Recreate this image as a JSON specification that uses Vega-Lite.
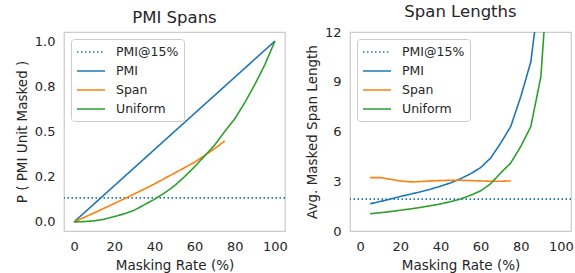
{
  "$schema": "https://vega.github.io/schema/vega-lite/v6.json",
  "padding": {"left": 14, "top": 2, "right": 2, "bottom": 2},
  "spacing": 16,
  "config": {
    "font": "DejaVu Sans",
    "view": {"stroke": "#cccccc", "strokeWidth": 1.25},
    "axis": {"grid": false, "domain": false, "ticks": false, "labelFontSize": 13, "titleFontSize": 13.5, "labelColor": "#262626", "titleColor": "#262626", "labelPadding": 9, "titleFontWeight": "normal", "titlePadding": 5},
    "title": {"fontSize": 16.5, "fontWeight": "normal", "color": "#262626", "offset": 6},
    "legend": {"orient": "top-left", "offset": 7, "padding": 5, "strokeColor": "#cccccc", "fillColor": "rgba(255,255,255,0.85)", "cornerRadius": 3, "symbolType": "M-1,0H3", "symbolSize": 196, "symbolStrokeWidth": 1.6, "labelFontSize": 12.5, "labelColor": "#262626", "labelOffset": 24, "rowPadding": 4, "labelLimit": 200}
  },
  "datasets": {
    "leftLines": [
      {"series": "PMI", "rate": 0, "p": 0},
      {"series": "PMI", "rate": 25, "p": 0.25},
      {"series": "PMI", "rate": 50, "p": 0.5},
      {"series": "PMI", "rate": 75, "p": 0.75},
      {"series": "PMI", "rate": 100, "p": 1.0},
      {"series": "Span", "rate": 0, "p": 0},
      {"series": "Span", "rate": 5, "p": 0.025},
      {"series": "Span", "rate": 10, "p": 0.05},
      {"series": "Span", "rate": 15, "p": 0.076},
      {"series": "Span", "rate": 20, "p": 0.102},
      {"series": "Span", "rate": 25, "p": 0.128},
      {"series": "Span", "rate": 30, "p": 0.155},
      {"series": "Span", "rate": 35, "p": 0.182},
      {"series": "Span", "rate": 40, "p": 0.21},
      {"series": "Span", "rate": 45, "p": 0.24},
      {"series": "Span", "rate": 50, "p": 0.27},
      {"series": "Span", "rate": 55, "p": 0.3},
      {"series": "Span", "rate": 60, "p": 0.33},
      {"series": "Span", "rate": 65, "p": 0.368},
      {"series": "Span", "rate": 70, "p": 0.405},
      {"series": "Span", "rate": 75, "p": 0.448},
      {"series": "Uniform", "rate": 0, "p": 0},
      {"series": "Uniform", "rate": 5, "p": 0.002},
      {"series": "Uniform", "rate": 10, "p": 0.006},
      {"series": "Uniform", "rate": 15, "p": 0.015},
      {"series": "Uniform", "rate": 20, "p": 0.03},
      {"series": "Uniform", "rate": 25, "p": 0.045},
      {"series": "Uniform", "rate": 30, "p": 0.065},
      {"series": "Uniform", "rate": 35, "p": 0.095},
      {"series": "Uniform", "rate": 40, "p": 0.125},
      {"series": "Uniform", "rate": 45, "p": 0.16},
      {"series": "Uniform", "rate": 50, "p": 0.2},
      {"series": "Uniform", "rate": 55, "p": 0.25},
      {"series": "Uniform", "rate": 60, "p": 0.305},
      {"series": "Uniform", "rate": 65, "p": 0.365},
      {"series": "Uniform", "rate": 70, "p": 0.425},
      {"series": "Uniform", "rate": 75, "p": 0.5},
      {"series": "Uniform", "rate": 80, "p": 0.57},
      {"series": "Uniform", "rate": 85, "p": 0.66},
      {"series": "Uniform", "rate": 90, "p": 0.76},
      {"series": "Uniform", "rate": 95, "p": 0.87},
      {"series": "Uniform", "rate": 100, "p": 1.0}
    ],
    "leftRef": [{"series": "PMI@15%", "p": 0.133}],
    "rightLines": [
      {"series": "PMI", "rate": 5, "len": 1.64},
      {"series": "PMI", "rate": 10, "len": 1.78},
      {"series": "PMI", "rate": 15, "len": 1.92},
      {"series": "PMI", "rate": 20, "len": 2.08},
      {"series": "PMI", "rate": 25, "len": 2.22},
      {"series": "PMI", "rate": 30, "len": 2.36},
      {"series": "PMI", "rate": 35, "len": 2.52},
      {"series": "PMI", "rate": 40, "len": 2.7},
      {"series": "PMI", "rate": 45, "len": 2.9},
      {"series": "PMI", "rate": 50, "len": 3.15},
      {"series": "PMI", "rate": 55, "len": 3.45},
      {"series": "PMI", "rate": 60, "len": 3.82},
      {"series": "PMI", "rate": 65, "len": 4.4},
      {"series": "PMI", "rate": 70, "len": 5.3},
      {"series": "PMI", "rate": 75, "len": 6.3},
      {"series": "PMI", "rate": 80, "len": 8.1},
      {"series": "PMI", "rate": 85, "len": 10.2},
      {"series": "PMI", "rate": 90, "len": 15},
      {"series": "Span", "rate": 5, "len": 3.22},
      {"series": "Span", "rate": 10, "len": 3.22},
      {"series": "Span", "rate": 15, "len": 3.12},
      {"series": "Span", "rate": 20, "len": 3.02},
      {"series": "Span", "rate": 25, "len": 2.96},
      {"series": "Span", "rate": 30, "len": 2.98},
      {"series": "Span", "rate": 35, "len": 3.02},
      {"series": "Span", "rate": 40, "len": 3.04},
      {"series": "Span", "rate": 45, "len": 3.06},
      {"series": "Span", "rate": 50, "len": 3.06},
      {"series": "Span", "rate": 55, "len": 3.04},
      {"series": "Span", "rate": 60, "len": 3.02},
      {"series": "Span", "rate": 65, "len": 3.0},
      {"series": "Span", "rate": 70, "len": 3.0},
      {"series": "Span", "rate": 75, "len": 3.02},
      {"series": "Uniform", "rate": 5, "len": 1.04},
      {"series": "Uniform", "rate": 10, "len": 1.1},
      {"series": "Uniform", "rate": 15, "len": 1.17},
      {"series": "Uniform", "rate": 20, "len": 1.25},
      {"series": "Uniform", "rate": 25, "len": 1.33},
      {"series": "Uniform", "rate": 30, "len": 1.42},
      {"series": "Uniform", "rate": 35, "len": 1.52},
      {"series": "Uniform", "rate": 40, "len": 1.63},
      {"series": "Uniform", "rate": 45, "len": 1.77},
      {"series": "Uniform", "rate": 50, "len": 1.93},
      {"series": "Uniform", "rate": 55, "len": 2.15},
      {"series": "Uniform", "rate": 60, "len": 2.42},
      {"series": "Uniform", "rate": 65, "len": 2.85},
      {"series": "Uniform", "rate": 70, "len": 3.5},
      {"series": "Uniform", "rate": 75, "len": 4.1},
      {"series": "Uniform", "rate": 80, "len": 5.1},
      {"series": "Uniform", "rate": 85, "len": 6.3},
      {"series": "Uniform", "rate": 90, "len": 9.3},
      {"series": "Uniform", "rate": 95, "len": 18}
    ],
    "rightRef": [{"series": "PMI@15%", "len": 1.92}]
  },
  "resolve": {
    "scale": {"color": "independent", "strokeDash": "independent", "x": "independent", "y": "independent"},
    "legend": {"color": "independent", "strokeDash": "independent"}
  },
  "hconcat": [
    {
      "title": "PMI Spans",
      "width": 221,
      "height": 199,
      "layer": [
        {
          "data": {"name": "leftRef"},
          "mark": {"type": "rule", "strokeWidth": 1.6},
          "encoding": {
            "y": {"field": "p", "type": "quantitative"},
            "color": {"field": "series", "type": "nominal", "title": null, "scale": {"domain": ["PMI@15%", "PMI", "Span", "Uniform"], "range": ["#1f77b4", "#1f77b4", "#ff7f0e", "#2ca02c"]}},
            "strokeDash": {"field": "series", "type": "nominal", "title": null, "scale": {"domain": ["PMI@15%", "PMI", "Span", "Uniform"], "range": [[1.5, 2.5], [1, 0], [1, 0], [1, 0]]}}
          }
        },
        {
          "data": {"name": "leftLines"},
          "mark": {"type": "line", "strokeWidth": 1.6, "clip": true},
          "encoding": {
            "x": {"field": "rate", "type": "quantitative", "title": "Masking Rate (%)", "scale": {"domain": [-5, 105], "nice": false, "zero": false}, "axis": {"values": [0, 20, 40, 60, 80, 100]}},
            "y": {"field": "p", "type": "quantitative", "title": "P ( PMI Unit Masked )", "scale": {"domain": [-0.05, 1.05], "nice": false, "zero": false}, "axis": {"values": [0, 0.25, 0.5, 0.75, 1], "labelExpr": "datum.value == 0.25 ? '0.2' : datum.value == 0.75 ? '0.8' : format(datum.value, '.1f')"}},
            "color": {"field": "series", "type": "nominal", "title": null},
            "strokeDash": {"field": "series", "type": "nominal", "title": null}
          }
        }
      ]
    },
    {
      "title": "Span Lengths",
      "width": 221,
      "height": 199,
      "layer": [
        {
          "data": {"name": "rightRef"},
          "mark": {"type": "rule", "strokeWidth": 1.6},
          "encoding": {
            "y": {"field": "len", "type": "quantitative"},
            "color": {"field": "series", "type": "nominal", "title": null, "scale": {"domain": ["PMI@15%", "PMI", "Span", "Uniform"], "range": ["#1f77b4", "#1f77b4", "#ff7f0e", "#2ca02c"]}},
            "strokeDash": {"field": "series", "type": "nominal", "title": null, "scale": {"domain": ["PMI@15%", "PMI", "Span", "Uniform"], "range": [[1.5, 2.5], [1, 0], [1, 0], [1, 0]]}}
          }
        },
        {
          "data": {"name": "rightLines"},
          "mark": {"type": "line", "strokeWidth": 1.6, "clip": true},
          "encoding": {
            "x": {"field": "rate", "type": "quantitative", "title": "Masking Rate (%)", "scale": {"domain": [-5, 105], "nice": false, "zero": false}, "axis": {"values": [0, 20, 40, 60, 80, 100]}},
            "y": {"field": "len", "type": "quantitative", "title": "Avg. Masked Span Length", "scale": {"domain": [0, 12], "nice": false}, "axis": {"values": [0, 3, 6, 9, 12]}},
            "color": {"field": "series", "type": "nominal", "title": null},
            "strokeDash": {"field": "series", "type": "nominal", "title": null}
          }
        }
      ]
    }
  ]
}
